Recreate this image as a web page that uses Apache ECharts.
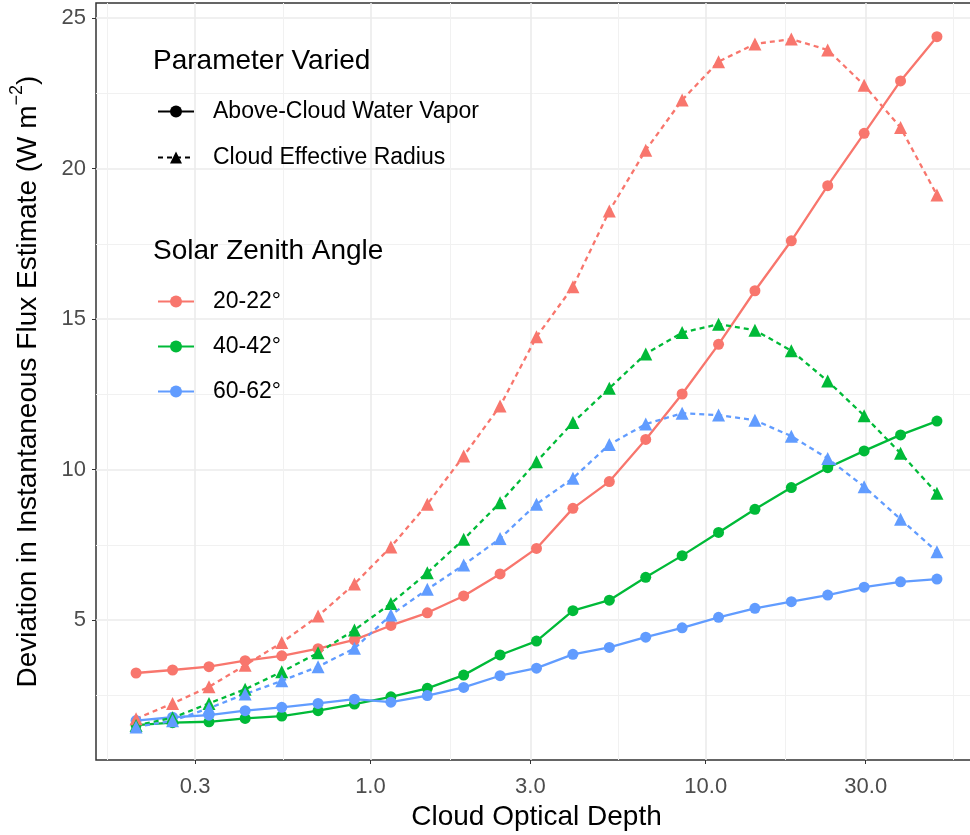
<!DOCTYPE html>
<html><head><meta charset="utf-8">
<script src="https://cdn.jsdelivr.net/npm/echarts@6/dist/echarts.min.js"></script>
<style>html,body{margin:0;padding:0;background:#fff}#c{width:970px;height:835px}</style>
</head><body><div id="c"></div>
<script>
// Cloud optical depth (x)
const tau = [0.2, 0.257, 0.330, 0.423, 0.544, 0.698, 0.896, 1.151, 1.478, 1.897, 2.436, 3.128, 4.017, 5.158, 6.623, 8.504, 10.92, 14.02, 18.00, 23.11, 29.68, 38.11, 48.93];
const xTickVals = [0.3, 1, 3, 10, 30];
const xMinorVals = [0.164, 0.548, 1.732, 5.477, 17.32, 54.77];
const yTickVals = [5, 10, 15, 20, 25];
const yMinorVals = [2.5, 7.5, 12.5, 17.5, 22.5];
const paramNames = ['Above-Cloud Water Vapor', 'Cloud Effective Radius'];
const szaNames = ['20-22°', '40-42°', '60-62°'];
const szaColors = ['#F8766D', '#00BA38', '#619CFF'];
// Above-cloud water vapor (solid)
const wv20 = [3.24,3.34,3.45,3.65,3.81,4.05,4.34,4.82,5.24,5.80,6.53,7.38,8.71,9.60,11.00,12.51,14.16,15.94,17.60,19.43,21.17,22.91,24.38];
const wv40 = [1.51,1.59,1.62,1.73,1.81,1.99,2.21,2.45,2.73,3.17,3.84,4.30,5.31,5.66,6.42,7.14,7.91,8.68,9.40,10.06,10.62,11.15,11.61];
const wv60 = [1.66,1.77,1.84,1.99,2.10,2.23,2.37,2.27,2.49,2.76,3.15,3.40,3.86,4.09,4.43,4.74,5.09,5.39,5.61,5.83,6.09,6.27,6.36];
// Cloud effective radius (dashed)
const er20 = [1.72,2.23,2.78,3.50,4.25,5.13,6.20,7.43,8.85,10.45,12.11,14.41,16.07,18.59,20.61,22.28,23.55,24.14,24.30,23.94,22.77,21.36,19.12];
const er40 = [1.50,1.75,2.23,2.70,3.28,3.91,4.67,5.55,6.57,7.68,8.90,10.26,11.56,12.70,13.84,14.55,14.83,14.63,13.95,12.94,11.79,10.54,9.21];
const er60 = [1.45,1.65,2.07,2.54,2.98,3.45,4.06,5.17,6.02,6.83,7.71,8.85,9.71,10.83,11.51,11.87,11.81,11.64,11.11,10.37,9.43,8.35,7.27];

const FONT = '"Liberation Sans", Arial, Helvetica, sans-serif';
const DASH = [5, 4];
const X_MIN = 0.1519, X_MAX = 64.42;

function pair(vals) { return tau.map((t, i) => [t, vals[i]]); }
function dataSeries(name, vals, color, dashed) {
  return {
    name: name, type: 'line', xAxisIndex: 0, yAxisIndex: 0,
    data: pair(vals),
    symbol: dashed ? 'triangle' : 'circle',
    symbolSize: dashed ? 13 : 11,
    lineStyle: { color: color, width: 2.3, type: dashed ? DASH : 'solid' },
    itemStyle: { color: color },
    emphasis: { disabled: true },
    silent: true, z: 3
  };
}
function legendSeries(name, color, dashed) {
  return {
    name: name, type: 'line', data: [],
    symbol: dashed ? 'triangle' : 'circle',
    symbolSize: 11,
    lineStyle: { color: color, width: 2.3, type: dashed ? DASH : 'solid' },
    itemStyle: { color: color }
  };
}

const series = [
  dataSeries('wv ' + szaNames[0], wv20, szaColors[0], false),
  dataSeries('wv ' + szaNames[1], wv40, szaColors[1], false),
  dataSeries('wv ' + szaNames[2], wv60, szaColors[2], false),
  dataSeries('er ' + szaNames[0], er20, szaColors[0], true),
  dataSeries('er ' + szaNames[1], er40, szaColors[1], true),
  dataSeries('er ' + szaNames[2], er60, szaColors[2], true),
  legendSeries(paramNames[0], '#000', false),
  legendSeries(paramNames[1], '#000', true),
  legendSeries(szaNames[0], szaColors[0], false),
  legendSeries(szaNames[1], szaColors[1], false),
  legendSeries(szaNames[2], szaColors[2], false)
];

const chart = echarts.init(document.getElementById('c'), null, { renderer: 'canvas' });
const legendCommon = {
  orient: 'vertical', left: 157, padding: 0,
  itemWidth: 36, itemHeight: 15,
  selectedMode: false,
  textStyle: { fontFamily: FONT, fontSize: 23, color: '#000', lineHeight: 23, padding: [0, 0, 0, 14] }
};
chart.setOption({
  animation: false,
  backgroundColor: '#fff',
  textStyle: { fontFamily: FONT },
  title: [
    { text: 'Parameter Varied', left: 153, top: 47, padding: 0,
      textStyle: { fontFamily: FONT, fontSize: 28, fontWeight: 'normal', color: '#000', lineHeight: 28 } },
    { text: 'Solar Zenith Angle', left: 153, top: 237, padding: 0,
      textStyle: { fontFamily: FONT, fontSize: 28, fontWeight: 'normal', color: '#000', lineHeight: 28 } }
  ],
  legend: [
    Object.assign({}, legendCommon, { top: 100, itemGap: 23, data: paramNames }),
    Object.assign({}, legendCommon, { top: 290, itemGap: 22, data: szaNames })
  ],
  grid: {
    left: 96, top: 3, width: 881, bottom: 75, outerBoundsMode: 'none', containLabel: false,
    show: true, borderColor: '#333', borderWidth: 1.5, backgroundColor: 'transparent'
  },
  xAxis: [
    {
      type: 'log', min: X_MIN, max: X_MAX,
      name: 'Cloud Optical Depth', nameLocation: 'middle', nameGap: 42,
      nameTextStyle: { fontFamily: FONT, fontSize: 28, color: '#000' },
      axisLine: { show: false },
      axisTick: { show: true, length: 4, customValues: xTickVals, lineStyle: { color: '#333', width: 1 } },
      axisLabel: { customValues: xTickVals, margin: 16, fontFamily: FONT, fontSize: 22, color: '#4D4D4D',
        formatter: v => Number(v).toFixed(1) },
      splitLine: { show: true, lineStyle: { color: '#EBEBEB', width: 1.6 } },
      minorTick: { show: false }, minorSplitLine: { show: false }
    },
    {
      type: 'log', min: X_MIN, max: X_MAX, position: 'bottom',
      axisLine: { show: false }, axisLabel: { show: false },
      axisTick: { show: false, customValues: xMinorVals },
      splitLine: { show: true, lineStyle: { color: '#F1F1F1', width: 1 } }
    }
  ],
  yAxis: [
    {
      type: 'value', min: 0.35, max: 25.5,
      name: '{a|Deviation in Instantaneous Flux Estimate (W m}{s|−2}{a|)}',
      nameLocation: 'middle', nameGap: 54, nameRotate: 90,
      nameTextStyle: { fontFamily: FONT, color: '#000',
        rich: { a: { fontFamily: FONT, fontSize: 28, color: '#000', lineHeight: 34, verticalAlign: 'bottom' },
                s: { fontFamily: FONT, fontSize: 18, color: '#000', lineHeight: 34, verticalAlign: 'top' } } },
      axisLine: { show: false },
      axisTick: { show: true, length: 4, customValues: yTickVals, lineStyle: { color: '#333', width: 1 } },
      axisLabel: { customValues: yTickVals, margin: 10, fontFamily: FONT, fontSize: 22, color: '#4D4D4D' },
      splitLine: { show: true, lineStyle: { color: '#EBEBEB', width: 1.6 } }
    },
    {
      type: 'value', min: 0.35, max: 25.5, position: 'left',
      axisLine: { show: false }, axisLabel: { show: false },
      axisTick: { show: false, customValues: yMinorVals },
      splitLine: { show: true, lineStyle: { color: '#F1F1F1', width: 1 } }
    }
  ],
  series: series
});
</script>
</body></html>
